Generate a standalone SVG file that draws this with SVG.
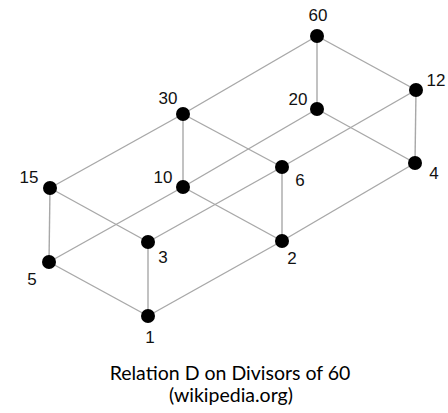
<svg xmlns="http://www.w3.org/2000/svg" width="448" height="413" viewBox="0 0 448 413">
<style>
.e{stroke:#a8a8a8;stroke-width:1.4;fill:none}
.n circle{fill:#000}
.l{font-family:"Liberation Sans",Arial,sans-serif;font-size:17px;fill:#111;text-anchor:middle}
.c{font-family:Lato,"Open Sans",sans-serif;font-size:19.5px;fill:#000;text-anchor:middle}
</style>
<rect width="448" height="413" fill="#fff"/>
<g id="connectors" class="e">
<line x1="148" y1="316" x2="49" y2="262"/>
<line x1="148" y1="316" x2="148" y2="242"/>
<line x1="148" y1="316" x2="282" y2="241"/>
<line x1="49" y1="262" x2="50" y2="188"/>
<line x1="49" y1="262" x2="183" y2="187"/>
<line x1="148" y1="242" x2="50" y2="188"/>
<line x1="148" y1="242" x2="282" y2="167"/>
<line x1="282" y1="241" x2="183" y2="187"/>
<line x1="282" y1="241" x2="282" y2="167"/>
<line x1="282" y1="241" x2="415" y2="163"/>
<line x1="50" y1="188" x2="183" y2="114"/>
<line x1="183" y1="187" x2="183" y2="114"/>
<line x1="183" y1="187" x2="317" y2="109"/>
<line x1="282" y1="167" x2="183" y2="114"/>
<line x1="282" y1="167" x2="416" y2="90"/>
<line x1="415" y1="163" x2="317" y2="109"/>
<line x1="415" y1="163" x2="416" y2="90"/>
<line x1="183" y1="114" x2="317" y2="36"/>
<line x1="317" y1="109" x2="317" y2="36"/>
<line x1="416" y1="90" x2="317" y2="36"/>
</g>
<g id="n1" class="n"><circle cx="148" cy="316" r="7"/><text class="l" x="150" y="343">1</text></g>
<g id="n2" class="n"><circle cx="282" cy="241" r="7"/><text class="l" x="292" y="264">2</text></g>
<g id="n3" class="n"><circle cx="148" cy="242" r="7"/><text class="l" x="163" y="263">3</text></g>
<g id="n4" class="n"><circle cx="415" cy="163" r="7"/><text class="l" x="434" y="179">4</text></g>
<g id="n5" class="n"><circle cx="49" cy="262" r="7"/><text class="l" x="32" y="285">5</text></g>
<g id="n6" class="n"><circle cx="282" cy="167" r="7"/><text class="l" x="300" y="186">6</text></g>
<g id="n10" class="n"><circle cx="183" cy="187" r="7"/><text class="l" x="163" y="183">10</text></g>
<g id="n12" class="n"><circle cx="416" cy="90" r="7"/><text class="l" x="436" y="86">12</text></g>
<g id="n15" class="n"><circle cx="50" cy="188" r="7"/><text class="l" x="29" y="183">15</text></g>
<g id="n20" class="n"><circle cx="317" cy="109" r="7"/><text class="l" x="298" y="105">20</text></g>
<g id="n30" class="n"><circle cx="183" cy="114" r="7"/><text class="l" x="168" y="104">30</text></g>
<g id="n60" class="n"><circle cx="317" cy="36" r="7"/><text class="l" x="318" y="21">60</text></g>
<text class="c" x="230" y="380">Relation D on Divisors of 60</text>
<text class="c" x="231" y="402">(wikipedia.org)</text>
</svg>
